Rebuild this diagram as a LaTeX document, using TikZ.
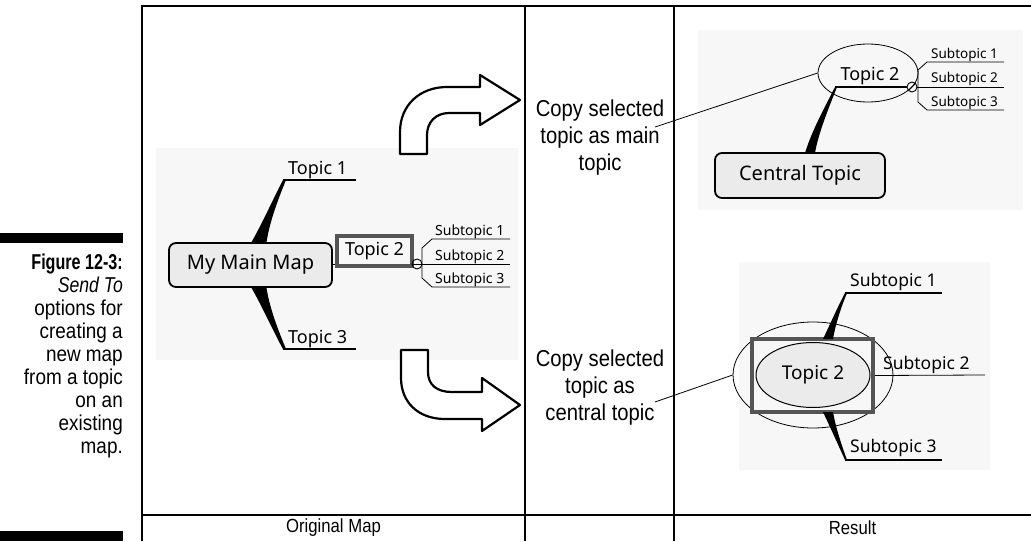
\documentclass[tikz,border=0pt]{standalone}
\usepackage{fontspec}
\setmainfont{Liberation Sans}[FakeStretch=0.88]
\newfontfamily\mapfont{Noto Sans}
\newfontfamily\capfont{Liberation Sans}[FakeStretch=0.88]
\newfontfamily\capboldfont{Liberation Sans Bold}[FakeStretch=0.75]
\newfontfamily\capitfont{Liberation Sans Italic}[FakeStretch=0.82]
\usetikzlibrary{positioning,calc,shapes.geometric}

\definecolor{mapbg}{HTML}{F7F7F7}
\definecolor{boxfill}{HTML}{EBEBEB}
\definecolor{selgray}{HTML}{555555}

\tikzset{
  frame/.style={line width=2.5pt},
  divider/.style={line width=1.2pt},
  mainbox/.style={draw, line width=1.8pt, rounded corners=7pt, fill=boxfill,
    font=\mapfont\fontsize{20}{24}\selectfont},
  topic/.style={font=\mapfont\fontsize{18}{21}\selectfont, inner sep=0pt, anchor=base west},
  subtopic/.style={font=\mapfont\fontsize{14}{16}\selectfont, inner sep=0pt, anchor=base west},
  uline/.style={line width=1.6pt},
  thinline/.style={line width=0.8pt},
  foldmark/.style={circle, draw, line width=0.9pt, minimum size=10pt, inner sep=0pt},
  selbox/.style={draw=selgray, line width=3.5pt},
  bigarrow/.style={draw, fill=white, line width=2.2pt, line join=round},
  note/.style={font=\fontsize{23}{27}\selectfont, align=center},
  colhead/.style={font=\fontsize{19}{22}\selectfont}
}

\begin{document}
\begin{tikzpicture}[x=1pt,y=-1pt]
\useasboundingbox (0,0) rectangle (1031,541);

% caption at the left
\fill (0,233) rectangle (123,243);
\fill (0,531) rectangle (123,541);
\node[anchor=north east, align=right, inner sep=0pt, font=\capfont\fontsize{21.5}{23}\selectfont] (caption) at (123,254)
  {{\capboldfont Figure 12-3:}\\ {\capitfont Send To}\\ options for\\ creating a\\ new map\\ from a topic\\ on an\\ existing\\ map.};

% table frame
\draw[frame] (142,541) -- (142,6) -- (1031,6);
\draw[divider] (525,6) -- (525,541);
\draw[divider] (674,6) -- (674,541);
\draw[divider] (142,515) -- (1031,515);
\node[colhead] (orig) at (333.5,528) {Original Map};
\node[colhead] (result) at (852.5,528) {Result};

% original map
\fill[mapbg] (156,148) rectangle (518,360);
\node[mainbox, minimum width=163pt, minimum height=44pt] (main) at (250.5,265) {My Main Map};
\coordinate (t1) at (283,180);
\coordinate (t3) at (283,349);
\fill ($(main.north)+(1,0)$) .. controls (263,222) and (275,195) .. (t1) -- (286,180)
  .. controls (279,197) and (270,220) .. ($(main.north)+(16,0)$) -- cycle;
\fill ($(main.south)+(1,0)$) .. controls (263,308) and (275,335) .. (t3) -- (286,349)
  .. controls (279,332) and (270,310) .. ($(main.south)+(16,0)$) -- cycle;
\draw[uline] (t1) -- ++(73,0);
\draw[uline] (t3) -- ++(73,0);
\node[topic] (topic1) at (288,174) {Topic 1};
\node[topic] (topic3) at (288,343) {Topic 3};
\draw[thinline] (332,264) -- (337,264);
\node[selbox, topic, anchor=center, inner sep=3pt, minimum width=75pt, minimum height=30pt] (topic2) at (374.5,251) {Topic 2};
\node[foldmark] (fold) at (417,264) {};
\draw[thinline] (fold.west) -- (fold.east);
\draw[thinline] (fold.east) -- (510,264);
\draw[thinline] (510,239) -- (432,239) -- (422,248) -- (422,278) -- (432,287) -- (510,287);
\node[subtopic] (sub1) at (435,235) {Subtopic 1};
\node[subtopic] (sub2) at (435,260) {Subtopic 2};
\node[subtopic] (sub3) at (435,283) {Subtopic 3};

% block arrows
\draw[bigarrow] (400,154) -- (400,132) .. controls (400,105) and (420,87) .. (447,87) -- (480,87)
  -- (480,75) -- (520,100) -- (480,125) -- (480,113) -- (449,113)
  .. controls (436,113) and (427,122) .. (427,135) -- (427,154) -- cycle;
\draw[bigarrow] (401,350) -- (401,378) .. controls (401,402) and (418,419) .. (445,419) -- (482,419)
  -- (482,431) -- (520,405) -- (482,378) -- (482,392) -- (452,392)
  .. controls (437,392) and (428,385) .. (428,372) -- (428,350) -- cycle;

% options
\node[note] (copymain) at (600,138) {Copy selected\\topic as main\\topic};
\node[note] (copycentral) at (600,388) {Copy selected\\topic as\\central topic};
\coordinate (pin1) at (655,127);
\coordinate (pin2) at (655,402);

% result: main topic
\fill[mapbg] (698,30) rectangle (1023,210);
\node[ellipse, draw, thinline, minimum width=100pt, minimum height=58pt] (ell1) at (868,73) {};
\node[topic, anchor=base] (topic2a) at (870,80) {Topic 2};
\node[mainbox, minimum width=170pt, minimum height=45pt] (central) at (800,175.5) {Central Topic};
\coordinate (u2) at (835,87);
\fill (u2) -- (837,87) .. controls (827,112) and (818,135) .. (815,153) -- (805,153)
  .. controls (812,130) and (826,105) .. (u2) -- cycle;
\node[foldmark] (fold2) at (912,87) {};
\draw[uline] (u2) -- (fold2.west);
\draw[thinline] (fold2.south west) -- (fold2.north east);
\draw[thinline] (fold2.east) -- (1004,87);
\draw[thinline] (1004,62) -- (927,62) -- (918,70) -- (918,102) -- (927,110) -- (1004,110);
\node[subtopic, font=\mapfont\fontsize{13.5}{16}\selectfont] (sub1a) at (931,58) {Subtopic 1};
\node[subtopic, font=\mapfont\fontsize{13.5}{16}\selectfont] (sub2a) at (931,82) {Subtopic 2};
\node[subtopic, font=\mapfont\fontsize{13.5}{16}\selectfont] (sub3a) at (931,106) {Subtopic 3};
\draw[thinline] (pin1) -- (ell1.west);

% result: central topic
\fill[mapbg] (739,262) rectangle (990,470);
\node[ellipse, draw, thinline, minimum width=160pt, minimum height=106pt] (ell2) at (813,375) {};
\node[ellipse, draw, line width=1pt, fill=boxfill, minimum width=114pt, minimum height=65pt,
  font=\mapfont\fontsize{19}{22}\selectfont] (topic2b) at (813,375) {Topic 2};
\node[selbox, minimum width=121pt, minimum height=73pt] (sel) at (812.5,375.5) {};
\coordinate (s1) at (845,293);
\coordinate (s3) at (845,460);
\fill (823,339) .. controls (832,320) and (840,302) .. (s1) -- (847,293)
  .. controls (842,305) and (836,322) .. (833,339) -- cycle;
\fill (823,412) .. controls (832,431) and (840,449) .. (s3) -- (847,460)
  .. controls (842,446) and (836,429) .. (833,412) -- cycle;
\draw[uline] (s1) -- (942,293);
\draw[uline] (s3) -- (942,460);
\draw[thinline] (sel.east) -- (985,375);
\node[subtopic, font=\mapfont\fontsize{17.5}{20}\selectfont] (sub1b) at (850,286) {Subtopic 1};
\node[subtopic, font=\mapfont\fontsize{17.5}{20}\selectfont] (sub2b) at (883,369) {Subtopic 2};
\node[subtopic, font=\mapfont\fontsize{17.5}{20}\selectfont] (sub3b) at (850,452) {Subtopic 3};
\draw[thinline] (pin2) -- (ell2.west);
\end{tikzpicture}
\end{document}
